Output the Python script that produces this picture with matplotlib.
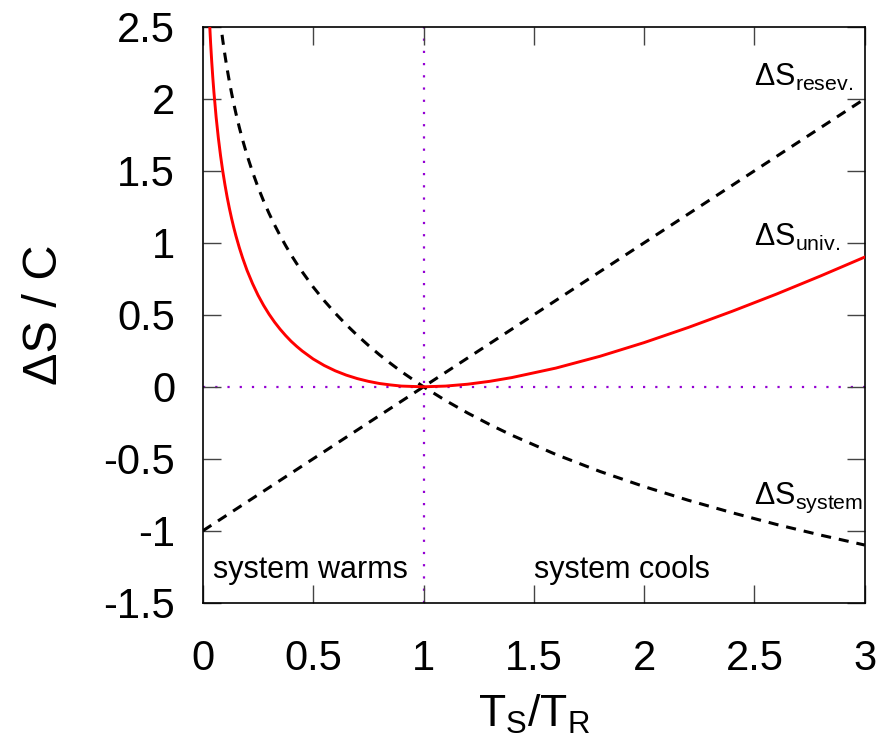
import matplotlib
matplotlib.use("Agg")
import matplotlib.pyplot as plt

plt.rcParams['font.family'] = ['Liberation Sans', 'DejaVu Sans']
plt.rcParams['mathtext.fontset'] = 'custom'
plt.rcParams['mathtext.rm'] = 'Liberation Sans'
plt.rcParams['mathtext.it'] = 'Liberation Sans'

# T_S/T_R sample points
ratio = [0.02, 0.025, 0.03, 0.035, 0.04, 0.045, 0.05, 0.06, 0.07, 0.08, 0.09,
         0.1, 0.11, 0.12, 0.13, 0.14, 0.15, 0.165, 0.18, 0.2, 0.225, 0.25,
         0.275, 0.3, 0.325, 0.35, 0.375, 0.4, 0.425, 0.45, 0.5, 0.55, 0.6,
         0.65, 0.7, 0.75, 0.8, 0.85, 0.9, 1.0, 1.1, 1.2, 1.3, 1.4, 1.6, 1.8,
         2.0, 2.2, 2.4, 2.6, 2.8, 3.0]
ds_system = [3.912, 3.689, 3.507, 3.352, 3.219, 3.101, 2.996, 2.813, 2.659,
             2.526, 2.408, 2.303, 2.207, 2.120, 2.040, 1.966, 1.897, 1.802,
             1.715, 1.609, 1.492, 1.386, 1.291, 1.204, 1.124, 1.050, 0.981,
             0.916, 0.856, 0.799, 0.693, 0.598, 0.511, 0.431, 0.357, 0.288,
             0.223, 0.163, 0.105, 0.0, -0.095, -0.182, -0.262, -0.336, -0.470,
             -0.588, -0.693, -0.788, -0.875, -0.956, -1.030, -1.099]
ds_univ = [2.932, 2.714, 2.537, 2.387, 2.259, 2.146, 2.046, 1.873, 1.729,
           1.606, 1.498, 1.403, 1.317, 1.240, 1.170, 1.106, 1.047, 0.967,
           0.895, 0.809, 0.717, 0.636, 0.566, 0.504, 0.449, 0.400, 0.356,
           0.316, 0.281, 0.249, 0.193, 0.148, 0.111, 0.081, 0.057, 0.038,
           0.023, 0.013, 0.005, 0.0, 0.005, 0.018, 0.038, 0.064, 0.130,
           0.212, 0.307, 0.412, 0.525, 0.644, 0.770, 0.901]
# reservoir is a straight line
res_x = [0.0, 3.0]
ds_reserv = [-1.0, 2.0]

xticks = [0, 0.5, 1, 1.5, 2, 2.5, 3]
xlabels = ['0', '0.5', '1', '1.5', '2', '2.5', '3']
yticks = [-1.5, -1, -0.5, 0, 0.5, 1, 1.5, 2, 2.5]
ylabels = ['-1.5', '-1', '-0.5', '0', '0.5', '1', '1.5', '2', '2.5']

fig = plt.figure(figsize=(8.86, 7.46), dpi=100)
ax = fig.add_axes([0.229, 0.192, 0.976 - 0.229, 0.964 - 0.192])

purple = '#9400d3'
ax.axvline(1, color=purple, lw=1.6, ls=(0, (1, 4.5)), zorder=1)
ax.axhline(0, color=purple, lw=1.6, ls=(0, (1, 4.5)), zorder=1)

ax.plot(res_x, ds_reserv, color='black', lw=2.2, dashes=(3.3, 2.6), zorder=3)
ax.plot(ratio, ds_system, color='black', lw=2.2, dashes=(3.3, 2.6), zorder=3)
ax.plot(ratio, ds_univ, color='red', lw=2.1, zorder=4)

ax.set_xlim(0, 3)
ax.set_ylim(-1.5, 2.5)
ax.set_xticks(xticks)
ax.set_xticklabels(xlabels)
ax.set_yticks(yticks)
ax.set_yticklabels(ylabels)
ax.tick_params(direction='in', length=13, width=1, color='#444444',
               top=True, right=True, labelsize=30)
ax.tick_params(axis='x', pad=26)
ax.tick_params(axis='y', pad=20)
for s in ax.spines.values():
    s.set_linewidth(1.2)

ax.set_xlabel(r'T$_\mathrm{S}$/T$_\mathrm{R}$', fontsize=32, labelpad=10)
ax.set_ylabel(r'ΔS / C', fontsize=35, labelpad=26)

ax.text(2.5, 2.15, r'ΔS$_\mathrm{resev.}$', fontsize=22, va='center', ha='left')
ax.text(2.5, 1.04, r'ΔS$_\mathrm{univ.}$', fontsize=22, va='center', ha='left')
ax.text(2.5, -0.77, r'ΔS$_\mathrm{system}$', fontsize=22, va='center', ha='left')
ax.text(0.045, -1.27, 'system warms', fontsize=22, va='center', ha='left')
ax.text(1.5, -1.27, 'system cools', fontsize=22, va='center', ha='left')

fig.savefig('out.png', dpi=100)
